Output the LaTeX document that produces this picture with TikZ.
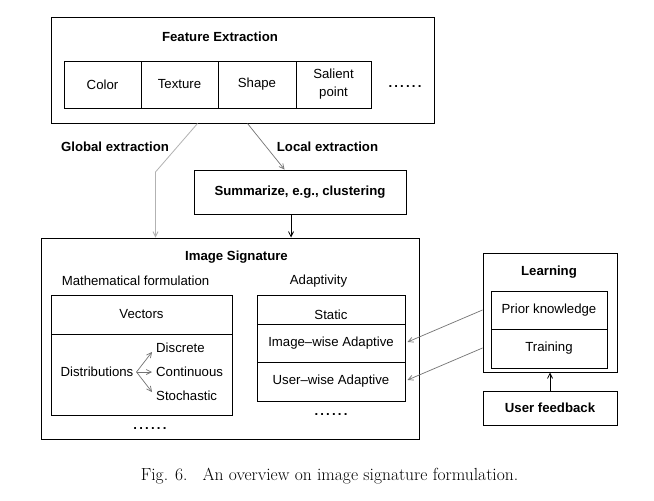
\documentclass[tikz,border=0pt]{standalone}
\usepackage{fontspec}
\newfontfamily\hv{Liberation Sans}
\usetikzlibrary{arrows.meta,calc}
\begin{document}
\begin{tikzpicture}[x=1pt,y=-1pt,
  box/.style={draw,line width=1pt,inner sep=0pt,font=\hv\fontsize{13.2}{16}\selectfont},
  txt/.style={inner sep=0pt,font=\hv\fontsize{13.2}{16}\selectfont},
  btxt/.style={inner sep=0pt,font=\hv\bfseries\fontsize{13.2}{16}\selectfont},
  tip/.style={-{Straight Barb[length=5pt,width=5pt]}},
  lightarrow/.style={tip,draw=black!30,line width=0.8pt},
  midarrow/.style={tip,draw=black!55,line width=0.7pt},
  darkarrow/.style={tip,draw=black,line width=0.8pt}]
\useasboundingbox[fill=white] (0,0) rectangle (654,501);
% Feature extraction
\node[box,minimum width=383,minimum height=106] (feat) at (242.5,70) {};
\node[btxt] (feattitle) at (220,37) {Feature Extraction};
\node[box,minimum width=77,minimum height=47] (color) at (102.5,84.5) {Color};
\node[box,minimum width=77,minimum height=47] (texture) at (179.5,84.5) {Texture};
\node[box,minimum width=78,minimum height=47] (shape) at (257,84.5) {Shape};
\node[box,minimum width=75,minimum height=47,align=center,font=\hv\fontsize{13.2}{18}\selectfont] (salient) at (333.5,84.5) {Salient\\point};
\node[btxt] (featdots) at (405,87) {.\,.\,.\,.\,.\,.};
% labels
\node[btxt] (glob) at (115,147) {Global extraction};
\node[btxt] (loc) at (327.5,147) {Local extraction};
% summarize
\node[box,minimum width=212,minimum height=44,font=\hv\bfseries\fontsize{13.2}{16}\selectfont] (sum) at (300,192) {Summarize, e.g., clustering};
% image signature
\node[box,minimum width=378,minimum height=201] (sig) at (230,338.5) {};
\node[btxt] (sigtitle) at (236.5,257) {Image Signature};
\node[txt] (mathlbl) at (135.5,281) {Mathematical formulation};
\node[txt] (adaplbl) at (318.5,281) {Adaptivity};
% math box
\node[box,minimum width=181,minimum height=39] (vec) at (141.5,314.5) {Vectors};
\node[box,minimum width=181,minimum height=81] (distbox) at (141.5,374.5) {};
\node[txt] (distlbl) at (97,372) {Distributions};
\node[txt,anchor=west] (disc) at (156,348) {Discrete};
\node[txt,anchor=west] (cont) at (156,372) {Continuous};
\node[txt,anchor=west] (stoch) at (156,396) {Stochastic};
\node[btxt] (mathdots) at (150,429) {.\,.\,.\,.\,.\,.};
% adaptivity box
\node[box,minimum width=148,minimum height=29,label={[txt,yshift=-5pt]center:Static}] (static) at (331,309.5) {};
\node[box,minimum width=148,minimum height=38] (imgw) at (331,343) {Image–wise Adaptive};
\node[box,minimum width=148,minimum height=39] (usrw) at (331,381.5) {User–wise Adaptive};
\node[btxt] (adapdots) at (331,415) {.\,.\,.\,.\,.\,.};
% learning
\node[box,minimum width=134,minimum height=119] (learn) at (550,312.5) {};
\node[btxt] (learntitle) at (549,272) {Learning};
\node[box,minimum width=116,minimum height=38] (prior) at (549,310) {Prior knowledge};
\node[box,minimum width=116,minimum height=39] (train) at (549,348.5) {Training};
\node[box,minimum width=134,minimum height=34,font=\hv\bfseries\fontsize{13.2}{16}\selectfont] (fb) at (550,408) {User feedback};
% caption
\node[inner sep=0pt,font=\fontsize{17.5}{21}\selectfont] (cap) at (329.5,476) {Fig. 6.\hspace{15pt}An overview on image signature formulation.};
% connectors
\draw[lightarrow] ([xshift=147pt]feat.south west) -- ([xshift=115pt]sig.north west |- 0,172) -- ([xshift=115pt]sig.north west);
\draw[midarrow] ([xshift=197pt]feat.south west) -- ([xshift=91pt]sum.north west);
\draw[darkarrow] ([xshift=-9pt]sum.south) -- ([xshift=-9pt]sum.south |- sig.north);
\draw[midarrow] ($(distlbl.east)+(3,0)$) -- ($(disc.west)+(-4,4)$);
\draw[midarrow] ($(distlbl.east)+(3,0)$) -- ($(cont.west)+(-4,0)$);
\draw[midarrow] ($(distlbl.east)+(3,0)$) -- ($(stoch.west)+(-4,-4)$);
\draw[midarrow] ($(learn.west)+(0,-2.5)$) -- ($(imgw.east)+(2,-1)$);
\draw[midarrow] ($(learn.west)+(0,35.5)$) -- ($(usrw.east)+(2,-1.5)$);
\draw[darkarrow] (fb.north) -- (learn.south);
\end{tikzpicture}
\end{document}
